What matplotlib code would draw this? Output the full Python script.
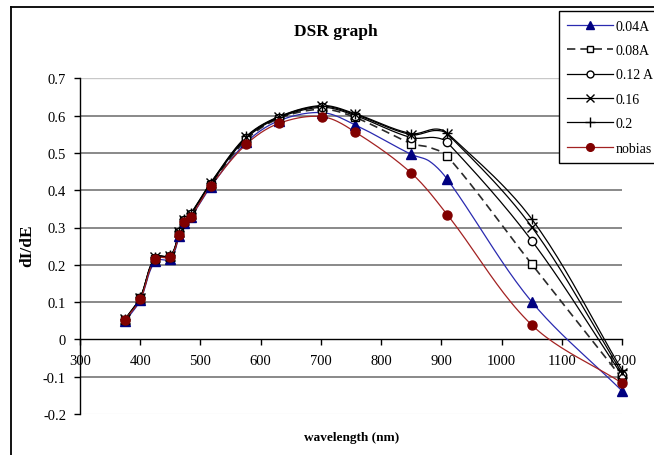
import numpy as np
import matplotlib
matplotlib.use("Agg")
import matplotlib.pyplot as plt
from matplotlib.lines import Line2D

plt.rcParams['font.family'] = ['Liberation Serif', 'DejaVu Serif']

# ---------------- data ----------------
wavelengths = [375, 400, 425, 450, 465, 473, 484, 517, 576, 630, 702, 757, 850, 910, 1050, 1200]

series_names = ['0.04A', '0.08A', '0.12 A', '0.16', '0.2', 'nobias']

vals_004 = [0.048, 0.105, 0.210, 0.216, 0.278, 0.313, 0.328, 0.409, 0.528, 0.586, 0.608, 0.575, 0.496, 0.429, 0.101, -0.138]
vals_008 = [0.052, 0.110, 0.216, 0.221, 0.284, 0.317, 0.333, 0.414, 0.535, 0.592, 0.617, 0.595, 0.525, 0.491, 0.202, -0.104]
vals_012 = [0.053, 0.111, 0.219, 0.223, 0.287, 0.319, 0.335, 0.417, 0.539, 0.594, 0.622, 0.600, 0.541, 0.528, 0.265, -0.096]
vals_016 = [0.054, 0.112, 0.220, 0.224, 0.289, 0.321, 0.337, 0.419, 0.542, 0.596, 0.625, 0.603, 0.549, 0.551, 0.302, -0.090]
vals_020 = [0.055, 0.113, 0.221, 0.225, 0.290, 0.322, 0.338, 0.420, 0.544, 0.597, 0.627, 0.605, 0.552, 0.553, 0.323, -0.082]
vals_nob = [0.053, 0.107, 0.216, 0.222, 0.280, 0.314, 0.329, 0.411, 0.523, 0.579, 0.597, 0.556, 0.446, 0.334, 0.039, -0.117]

# extra points on the lines that carry no marker
hidden_wl_004, hidden_val_004 = [880], [0.478]
hidden_wl_008, hidden_val_008 = [880], [0.515]
hidden_wl_012, hidden_val_012 = [890], [0.541]
hidden_wl_016, hidden_val_016 = [890], [0.560]
hidden_wl_020, hidden_val_020 = [891], [0.564]
hidden_wl_nob, hidden_val_nob = [], []

y_ticks = [-0.2, -0.1, 0, 0.1, 0.2, 0.3, 0.4, 0.5, 0.6, 0.7]
x_ticks = [300, 400, 500, 600, 700, 800, 900, 1000, 1100, 1200]

# ---------------- helpers ----------------
XMIN, XMAX, YMIN, YMAX = 300, 1200, -0.2, 0.7
W_PX, H_PX = 542.0, 336.0


def smooth(xs, ys, n=24):
    """Smoothed line through the points (Bezier, tangent length tied to segment length)."""
    px = (np.asarray(xs, float) - XMIN) / (XMAX - XMIN) * W_PX
    py = (np.asarray(ys, float) - YMIN) / (YMAX - YMIN) * H_PX
    P = np.column_stack([px, py])
    m = len(P)
    D = np.zeros_like(P)
    for i in range(m):
        a = P[i - 1] if i > 0 else P[i]
        b = P[i + 1] if i + 1 < m else P[i]
        d = b - a
        D[i] = d / (np.hypot(*d) + 1e-12)
    out = []
    t = np.linspace(0, 1, n)[:, None]
    for i in range(m - 1):
        L = np.hypot(*(P[i + 1] - P[i]))
        c1 = P[i] + D[i] * L / 3.0
        c2 = P[i + 1] - D[i + 1] * L / 3.0
        seg = ((1 - t) ** 3) * P[i] + 3 * ((1 - t) ** 2) * t * c1 + 3 * (1 - t) * t ** 2 * c2 + t ** 3 * P[i + 1]
        out.append(seg if i == 0 else seg[1:])
    out = np.vstack(out)
    return (out[:, 0] / W_PX * (XMAX - XMIN) + XMIN,
            out[:, 1] / H_PX * (YMAX - YMIN) + YMIN)


def merged(vals, hwl, hval):
    xs = list(wavelengths) + list(hwl)
    ys = list(vals) + list(hval)
    order = np.argsort(xs)
    return np.asarray(xs)[order], np.asarray(ys)[order]


# ---------------- figure ----------------
fig = plt.figure(figsize=(6.54, 4.56), dpi=100)
ax = fig.add_axes([80 / 654, 1 - 415 / 456, 542 / 654, 335.7 / 456])

ax.set_xlim(XMIN, XMAX)
ax.set_ylim(YMIN, YMAX)

styles = [
    dict(vals=vals_004, hw=hidden_wl_004, hv=hidden_val_004, color='#2a2ab0', ls='-',
         marker='^', mfc='#000080', mec='#000080', ms=6.5),
    dict(vals=vals_008, hw=hidden_wl_008, hv=hidden_val_008, color='#2a2a2a', ls=(0, (5, 3)),
         marker='s', mfc='white', mec='black', ms=6),
    dict(vals=vals_012, hw=hidden_wl_012, hv=hidden_val_012, color='black', ls='-',
         marker='o', mfc='white', mec='black', ms=6),
    dict(vals=vals_016, hw=hidden_wl_016, hv=hidden_val_016, color='black', ls='-',
         marker='x', mfc='black', mec='black', ms=6.5),
    dict(vals=vals_020, hw=hidden_wl_020, hv=hidden_val_020, color='black', ls='-',
         marker='+', mfc='black', mec='black', ms=7.5),
    dict(vals=vals_nob, hw=hidden_wl_nob, hv=hidden_val_nob, color='#a32222', ls='-',
         marker='o', mfc='#800000', mec='#800000', ms=6.5),
]

handles = []
for name, st in zip(series_names, styles):
    xs, ys = merged(st['vals'], st['hw'], st['hv'])
    sx, sy = smooth(xs, ys)
    lw = 1.2 if st['ls'] != '-' else 0.9
    ax.plot(sx, sy, color=st['color'], ls=st['ls'], lw=lw, zorder=3, clip_on=False)
    ax.plot(wavelengths, st['vals'], ls='none', marker=st['marker'], ms=st['ms'],
            mfc=st['mfc'], mec=st['mec'], mew=1.0, zorder=4, clip_on=False)
    handles.append(Line2D([], [], color=st['color'], ls=st['ls'], lw=lw,
                          marker=st['marker'], ms=st['ms'] - 1.0, mfc=st['mfc'],
                          mec=st['mec'], mew=1.0))

# grid lines
ax.set_yticks(y_ticks)
ax.set_xticks(x_ticks)
ax.yaxis.grid(True, color='#808080', lw=1.3, zorder=1)
gls = ax.yaxis.get_gridlines()
for val, gl in zip(y_ticks, gls):
    if abs(val - 0.7) < 1e-9:
        gl.set_color('#c8c8c8')
        gl.set_linewidth(1.0)
    elif abs(val + 0.2) < 1e-9:
        gl.set_color('#f2f2f2')
        gl.set_linewidth(1.0)
    elif abs(val) < 1e-9:
        gl.set_visible(False)
ax.set_axisbelow(True)

for s in ['top', 'right']:
    ax.spines[s].set_visible(False)
ax.spines['bottom'].set_position(('data', 0))
ax.spines['left'].set_linewidth(1.0)
ax.spines['bottom'].set_linewidth(1.0)

ax.set_yticklabels([f"{v:g}" for v in y_ticks])
ax.set_xticklabels([str(v) for v in x_ticks])
ax.tick_params(axis='y', direction='out', length=4, width=1, pad=6, labelsize=10.5)
ax.tick_params(axis='x', direction='out', length=4, width=1, pad=6.5, labelsize=10.5)

# texts
fig.text(336 / 654, 1 - 32 / 456, 'DSR graph', ha='center', va='center',
         fontsize=12.5, fontweight='bold')
fig.text(27 / 654, 1 - 246 / 456, 'dI/dE', ha='center', va='center', rotation=90,
         fontsize=12.5, fontweight='bold')
fig.text(352 / 654, 1 - 438 / 456, 'wavelength (nm)', ha='center', va='center',
         fontsize=9.5, fontweight='bold')

# legend (its frame runs past the right edge, like the reference)
leg = fig.legend(handles, series_names, loc='upper left',
                 bbox_to_anchor=(559 / 654, 1 - 12.3 / 456),
                 frameon=True, fancybox=False, edgecolor='black', framealpha=1,
                 fontsize=10, handlelength=3.3, handletextpad=0.2,
                 labelspacing=0.82, borderpad=0.6, borderaxespad=0)
leg.get_frame().set_linewidth(1.0)

# outer chart frame (cut at right and bottom)
fig.add_artist(Line2D([10.5 / 654, 10.5 / 654], [0, 1 - 7.5 / 456], color='black',
                      lw=1.3, transform=fig.transFigure))
fig.add_artist(Line2D([10.5 / 654, 1], [1 - 7.5 / 456, 1 - 7.5 / 456], color='black',
                      lw=1.3, transform=fig.transFigure))

fig.savefig('out.png', dpi=100)
